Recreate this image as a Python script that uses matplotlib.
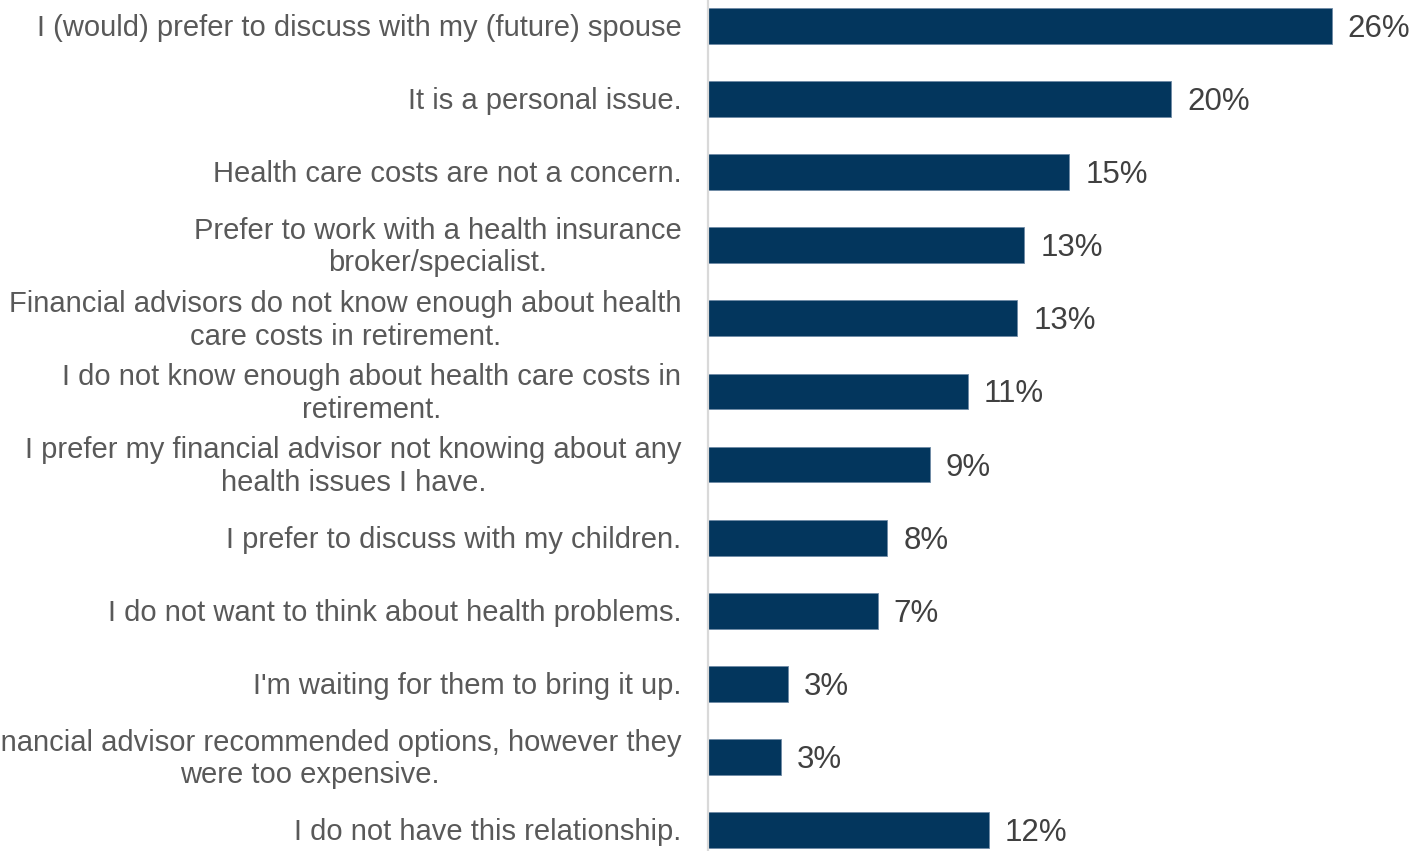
import matplotlib
matplotlib.use('Agg')
import matplotlib.pyplot as plt
import numpy as np

plt.rcParams['font.family'] = ['Liberation Sans', 'DejaVu Sans']

reasons = [
    'I (would) prefer to discuss with my (future) spouse',
    'It is a personal issue.',
    'Health care costs are not a concern.',
    'Prefer to work with a health insurance\nbroker/specialist.',
    'Financial advisors do not know enough about health\ncare costs in retirement.',
    'I do not know enough about health care costs in\nretirement.',
    'I prefer my financial advisor not knowing about any\nhealth issues I have.',
    'I prefer to discuss with my children.',
    'I do not want to think about health problems.',
    "I'm waiting for them to bring it up.",
    'My financial advisor recommended options, however they\nwere too expensive.',
    'I do not have this relationship.',
]
shares = [26.4, 19.6, 15.3, 13.4, 13.1, 11.0, 9.4, 7.6, 7.2, 3.4, 3.1, 11.9]

bar_color = '#03365D'
text_color = '#595959'
value_color = '#404040'

W, H = 1414, 851
fig = plt.figure(figsize=(W / 100, H / 100), dpi=100)
x0 = 707.5
ax = fig.add_axes([x0 / W, 0, (W - x0) / W, 1])

y = np.arange(len(reasons))
ax.barh(y, shares, height=0.49, color=bar_color, edgecolor='#6f8aa5', linewidth=0.6)

step = 73.1
ax.set_ylim(11 + 21 / step, -26 / step)
ax.set_xlim(0, (W - x0) / 23.65)

# percentages just past the bar ends
for yi, v in zip(y, shares):
    ax.annotate('%.0f%%' % v, xy=(v, yi), xytext=(16, -3), textcoords='offset pixels',
                va='center', ha='left', fontsize=22.5, color=value_color)

# category names right-aligned against the axis line, clipped by the figure edge
for yi, lab in zip(y, reasons):
    ax.annotate(lab, xy=(0, yi), xytext=(-26, -2), textcoords='offset pixels',
                va='center', ha='right', multialignment='center', linespacing=1.2,
                fontsize=21, color=text_color, annotation_clip=False)

for s in ['top', 'right', 'bottom']:
    ax.spines[s].set_visible(False)
ax.spines['left'].set_color('#d9d9d9')
ax.spines['left'].set_linewidth(1.6)
ax.set_xticks([])
ax.set_yticks([])

fig.savefig('out.png', dpi=100)
